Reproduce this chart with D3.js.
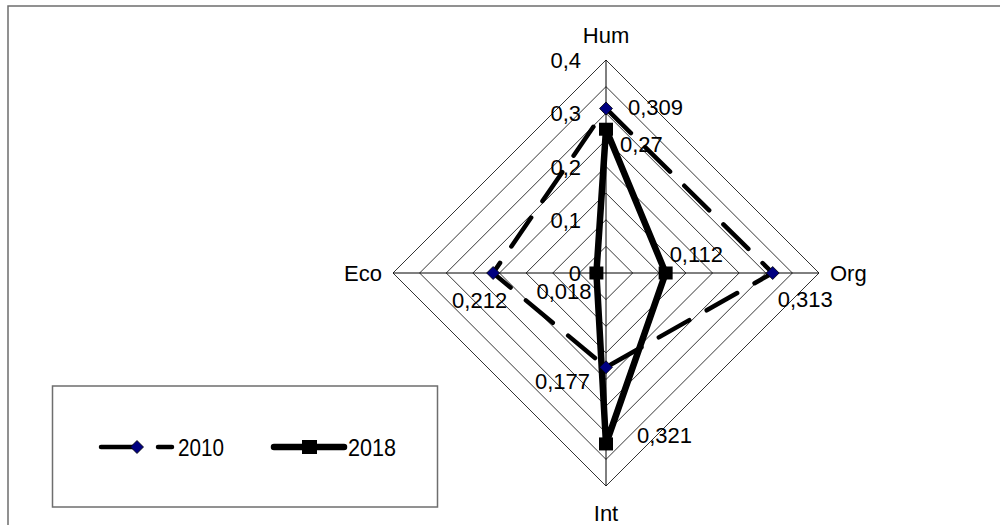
<!DOCTYPE html>
<html><head><meta charset="utf-8">
<script src="https://cdn.jsdelivr.net/npm/d3@7"></script>
<style>
html,body{margin:0;padding:0;background:#fff;}
svg{display:block;}
text{font-family:"Liberation Sans",Arial,sans-serif;fill:#000;}
</style></head>
<body>
<svg id="chart" width="1000" height="525"></svg>
<script>
// ---- data ----
const categories = ["Hum", "Org", "Int", "Eco"];
const values2010 = [0.309, 0.313, 0.177, 0.212];
const values2018 = [0.27, 0.112, 0.321, 0.018];
const seriesNames = ["2010", "2018"];
const tickValues = [0, 0.1, 0.2, 0.3, 0.4];
const tickLabels = ["0", "0,1", "0,2", "0,3", "0,4"];
const gridLevels = [0.05, 0.1, 0.15, 0.2, 0.25, 0.3, 0.35, 0.4];

// ---- layout ----
const cx = 606, cy = 273, R = 213;
const FS = 22;
const svg = d3.select("#chart");
svg.append("rect").attr("width",1000).attr("height",525).attr("fill","#fff");

// outer frame (cut at right/bottom)
svg.append("path").attr("d","M8,525 L8,6 L1000,6").attr("fill","none")
  .attr("stroke","#6e6e6e").attr("stroke-width",1.5);

const r = d3.scaleLinear().domain([0, 0.4]).range([0, R]);
const n = categories.length;
const ang = i => i * 2 * Math.PI / n;
const px = (i, v) => cx + r(v) * Math.sin(ang(i));
const py = (i, v) => cy - r(v) * Math.cos(ang(i));

const g = svg.append("g").attr("transform", `translate(${cx},${cy})`);

// grid
const gridLine = d3.lineRadial().angle((d,i)=>ang(i)).radius(d=>r(d)).curve(d3.curveLinearClosed);
g.selectAll("path.grid").data(gridLevels).enter().append("path")
  .attr("class","grid")
  .attr("d", lv => gridLine(categories.map(()=>lv)))
  .attr("fill","none").attr("stroke","#000").attr("stroke-width",0.8);

// axes
g.selectAll("line.axis").data(categories).enter().append("line")
  .attr("x1",0).attr("y1",0)
  .attr("x2",(d,i)=>r(0.4)*Math.sin(ang(i)))
  .attr("y2",(d,i)=>-r(0.4)*Math.cos(ang(i)))
  .attr("stroke","#000").attr("stroke-width",1);

// tick labels
svg.selectAll("text.tick").data(tickValues).enter().append("text")
  .attr("class","tick")
  .attr("x", 581).attr("y", v => cy - r(v) + 8)
  .attr("text-anchor","end").attr("font-size",FS)
  .text((v,i)=>tickLabels[i]);

// category labels
const catPos = [
  {x: cx, y: 43, a: "middle"},
  {x: 830, y: 281, a: "start"},
  {x: cx, y: 521, a: "middle"},
  {x: 382, y: 281, a: "end"}
];
svg.selectAll("text.cat").data(categories).enter().append("text")
  .attr("class","cat")
  .attr("x",(d,i)=>catPos[i].x).attr("y",(d,i)=>catPos[i].y)
  .attr("text-anchor",(d,i)=>catPos[i].a).attr("font-size",FS)
  .text(d=>d);

// series
const dash2010 = "35,20";
g.append("path").attr("d", gridLine(values2010))
  .attr("fill","none").attr("stroke","#000").attr("stroke-width",4.5)
  .attr("stroke-dasharray",dash2010).attr("stroke-linecap","round").attr("stroke-linejoin","round");
const diamond = s => `M0,${-s} L${s},0 L0,${s} L${-s},0 Z`;
svg.selectAll("path.m2010").data(values2010).enter().append("path")
  .attr("class","m2010")
  .attr("transform",(v,i)=>`translate(${px(i,v)},${py(i,v)})`)
  .attr("d", diamond(6.5))
  .attr("fill","#000080").attr("stroke","#000").attr("stroke-width",0.8);

g.append("path").attr("d", gridLine(values2018))
  .attr("fill","none").attr("stroke","#000").attr("stroke-width",6.5)
  .attr("stroke-linejoin","miter");
svg.selectAll("rect.m2018").data(values2018).enter().append("rect")
  .attr("class","m2018")
  .attr("x",(v,i)=>px(i,v)-7).attr("y",(v,i)=>py(i,v)-6.5)
  .attr("width",14).attr("height",13).attr("fill","#000");

// value labels
const fmt = v => String(v).replace(".", ",");
const off2010 = [[22,7],[5,34],[-71,22],[-41,35]];
const off2018 = [[14,23],[4,-11],[31,-1],[-60,26]];
svg.selectAll("text.v2010").data(values2010).enter().append("text")
  .attr("x",(v,i)=>px(i,v)+off2010[i][0]).attr("y",(v,i)=>py(i,v)+off2010[i][1])
  .attr("font-size",FS).text(fmt);
svg.selectAll("text.v2018").data(values2018).enter().append("text")
  .attr("x",(v,i)=>px(i,v)+off2018[i][0]).attr("y",(v,i)=>py(i,v)+off2018[i][1])
  .attr("font-size",FS).text(fmt);

// legend
const lg = svg.append("g");
lg.append("rect").attr("x",52.5).attr("y",386).attr("width",385).attr("height",121)
  .attr("fill","#fff").attr("stroke","#6e6e6e").attr("stroke-width",1.5);
const ly = 447;
lg.append("line").attr("x1",101).attr("x2",172).attr("y1",ly).attr("y2",ly)
  .attr("stroke","#000").attr("stroke-width",4.5).attr("stroke-linecap","round")
  .attr("stroke-dasharray","34,23");
lg.append("path").attr("transform",`translate(137,${ly})`).attr("d",diamond(6.5))
  .attr("fill","#000080").attr("stroke","#000").attr("stroke-width",0.8);
lg.append("text").attr("x",178).attr("y",456).attr("font-size",24)
  .attr("textLength",46).attr("lengthAdjust","spacingAndGlyphs").text(seriesNames[0]);
lg.append("line").attr("x1",274).attr("x2",344).attr("y1",ly).attr("y2",ly)
  .attr("stroke","#000").attr("stroke-width",6.5).attr("stroke-linecap","round");
lg.append("rect").attr("x",302).attr("y",ly-7).attr("width",15).attr("height",14).attr("fill","#000");
lg.append("text").attr("x",348).attr("y",456).attr("font-size",24)
  .attr("textLength",48).attr("lengthAdjust","spacingAndGlyphs").text(seriesNames[1]);
</script>
</body></html>
